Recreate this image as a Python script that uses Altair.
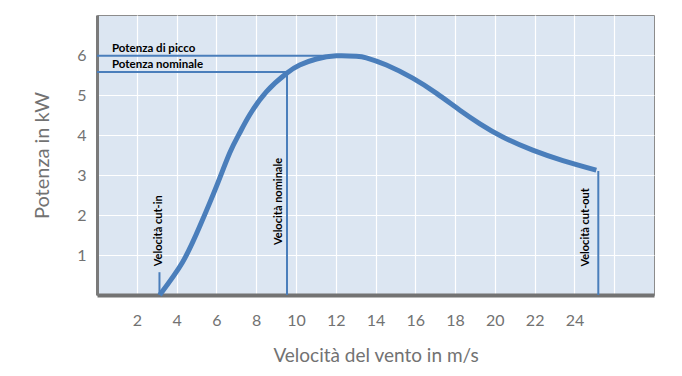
import altair as alt
import pandas as pd

# Power curve (wind speed m/s, power kW)
wind_speed = [3.15, 4.3, 5.16, 6.0, 6.67, 7.17, 7.67, 8.51, 9.52, 10.19, 11.03, 12.04,
              13.04, 13.54, 14.55, 15.87, 17.07, 18.24, 19.25, 20.4, 21.9, 23.42, 25.1]
power = [0.0, 0.82, 1.71, 2.71, 3.55, 4.05, 4.5, 5.08, 5.54, 5.75, 5.9, 5.98,
         5.97, 5.93, 5.75, 5.42, 5.04, 4.62, 4.28, 3.95, 3.62, 3.36, 3.12]

# Reference lines
hline_label = ["Potenza di picco", "Potenza nominale"]
hline_power = [5.98, 5.575]
hline_end = [11.5, 9.55]

vline_label = ["Velocità cut-in", "Velocità nominale", "Velocità cut-out"]
vline_speed = [3.14, 9.55, 25.2]
vline_top = [0.57, 5.575, 3.1]
vtext_speed = [3.14, 9.15, 24.6]
vtext_power = [0.72, 1.25, 0.71]

x_ticks = [2, 4, 6, 8, 10, 12, 14, 16, 18, 20, 22, 24, 26]
y_ticks = [1, 2, 3, 4, 5, 6]

BLUE = "#4a7ebb"
FONT = "Lato"
GREY = "#727272"

curve_df = pd.DataFrame({"v": wind_speed, "p": power})
h_df = pd.DataFrame({"label": hline_label, "p": hline_power, "x0": [0, 0], "x1": hline_end})
v_df = pd.DataFrame({"label": vline_label, "v": vline_speed, "p0": [0, 0, 0], "p1": vline_top,
                     "tv": vtext_speed, "tp": vtext_power})

xscale = alt.Scale(domain=[0, 28], nice=False, zero=False)
yscale = alt.Scale(domain=[0, 7], nice=False)

xaxis = alt.Axis(values=x_ticks, title="Velocità del vento in m/s",
                 labelExpr="datum.value == 26 ? '' : datum.label",
                 grid=True, gridColor="white", gridWidth=1.2,
                 domainColor="#737373", domainWidth=4, ticks=False,
                 labelColor=GREY, labelFontSize=16, labelFont=FONT, labelPadding=17,
                 titleColor=GREY, titleFontSize=19, titleFont=FONT,
                 titleFontWeight="normal", titlePadding=18)
yaxis = alt.Axis(values=y_ticks, title="Potenza in kW",
                 grid=True, gridColor="white", gridWidth=1.2,
                 domainColor="#7a7a7a", domainWidth=3, ticks=False,
                 labelColor=GREY, labelFontSize=16, labelFont=FONT, labelPadding=11,
                 titleColor=GREY, titleFontSize=20, titleFont=FONT,
                 titleFontWeight="normal", titlePadding=24)

curve = alt.Chart(curve_df).mark_line(color=BLUE, strokeWidth=5, interpolate="natural").encode(
    x=alt.X("v:Q", scale=xscale, axis=xaxis),
    y=alt.Y("p:Q", scale=yscale, axis=yaxis),
)

hrules = alt.Chart(h_df).mark_rule(color=BLUE, strokeWidth=2).encode(
    x=alt.X("x0:Q", scale=xscale), x2="x1:Q", y=alt.Y("p:Q", scale=yscale))

htext = alt.Chart(h_df).mark_text(align="left", baseline="alphabetic", dy=-4, font=FONT,
                                  fontSize=11.5, fontWeight="bold", color="black").encode(
    x=alt.value(15), y=alt.Y("p:Q", scale=yscale), text="label:N")

vrules = alt.Chart(v_df).mark_rule(color=BLUE, strokeWidth=2).encode(
    x=alt.X("v:Q", scale=xscale), y=alt.Y("p0:Q", scale=yscale), y2="p1:Q")

vtext = alt.Chart(v_df).mark_text(align="left", baseline="middle", angle=270, font=FONT,
                                  fontSize=11, fontWeight="bold", color="black").encode(
    x=alt.X("tv:Q", scale=xscale), y=alt.Y("tp:Q", scale=yscale), text="label:N")

chart = alt.layer(curve, hrules, vrules, htext, vtext).properties(
    width=557, height=280,
    autosize=alt.AutoSizeParams(type="none"),
    padding={"left": 89, "top": 7, "right": 20, "bottom": 70},
    background="white",
).configure_view(fill="#dce6f2", stroke="#8c8c8c", strokeWidth=1)

chart.save("out.html", embed_options={"renderer": "svg", "actions": False})
